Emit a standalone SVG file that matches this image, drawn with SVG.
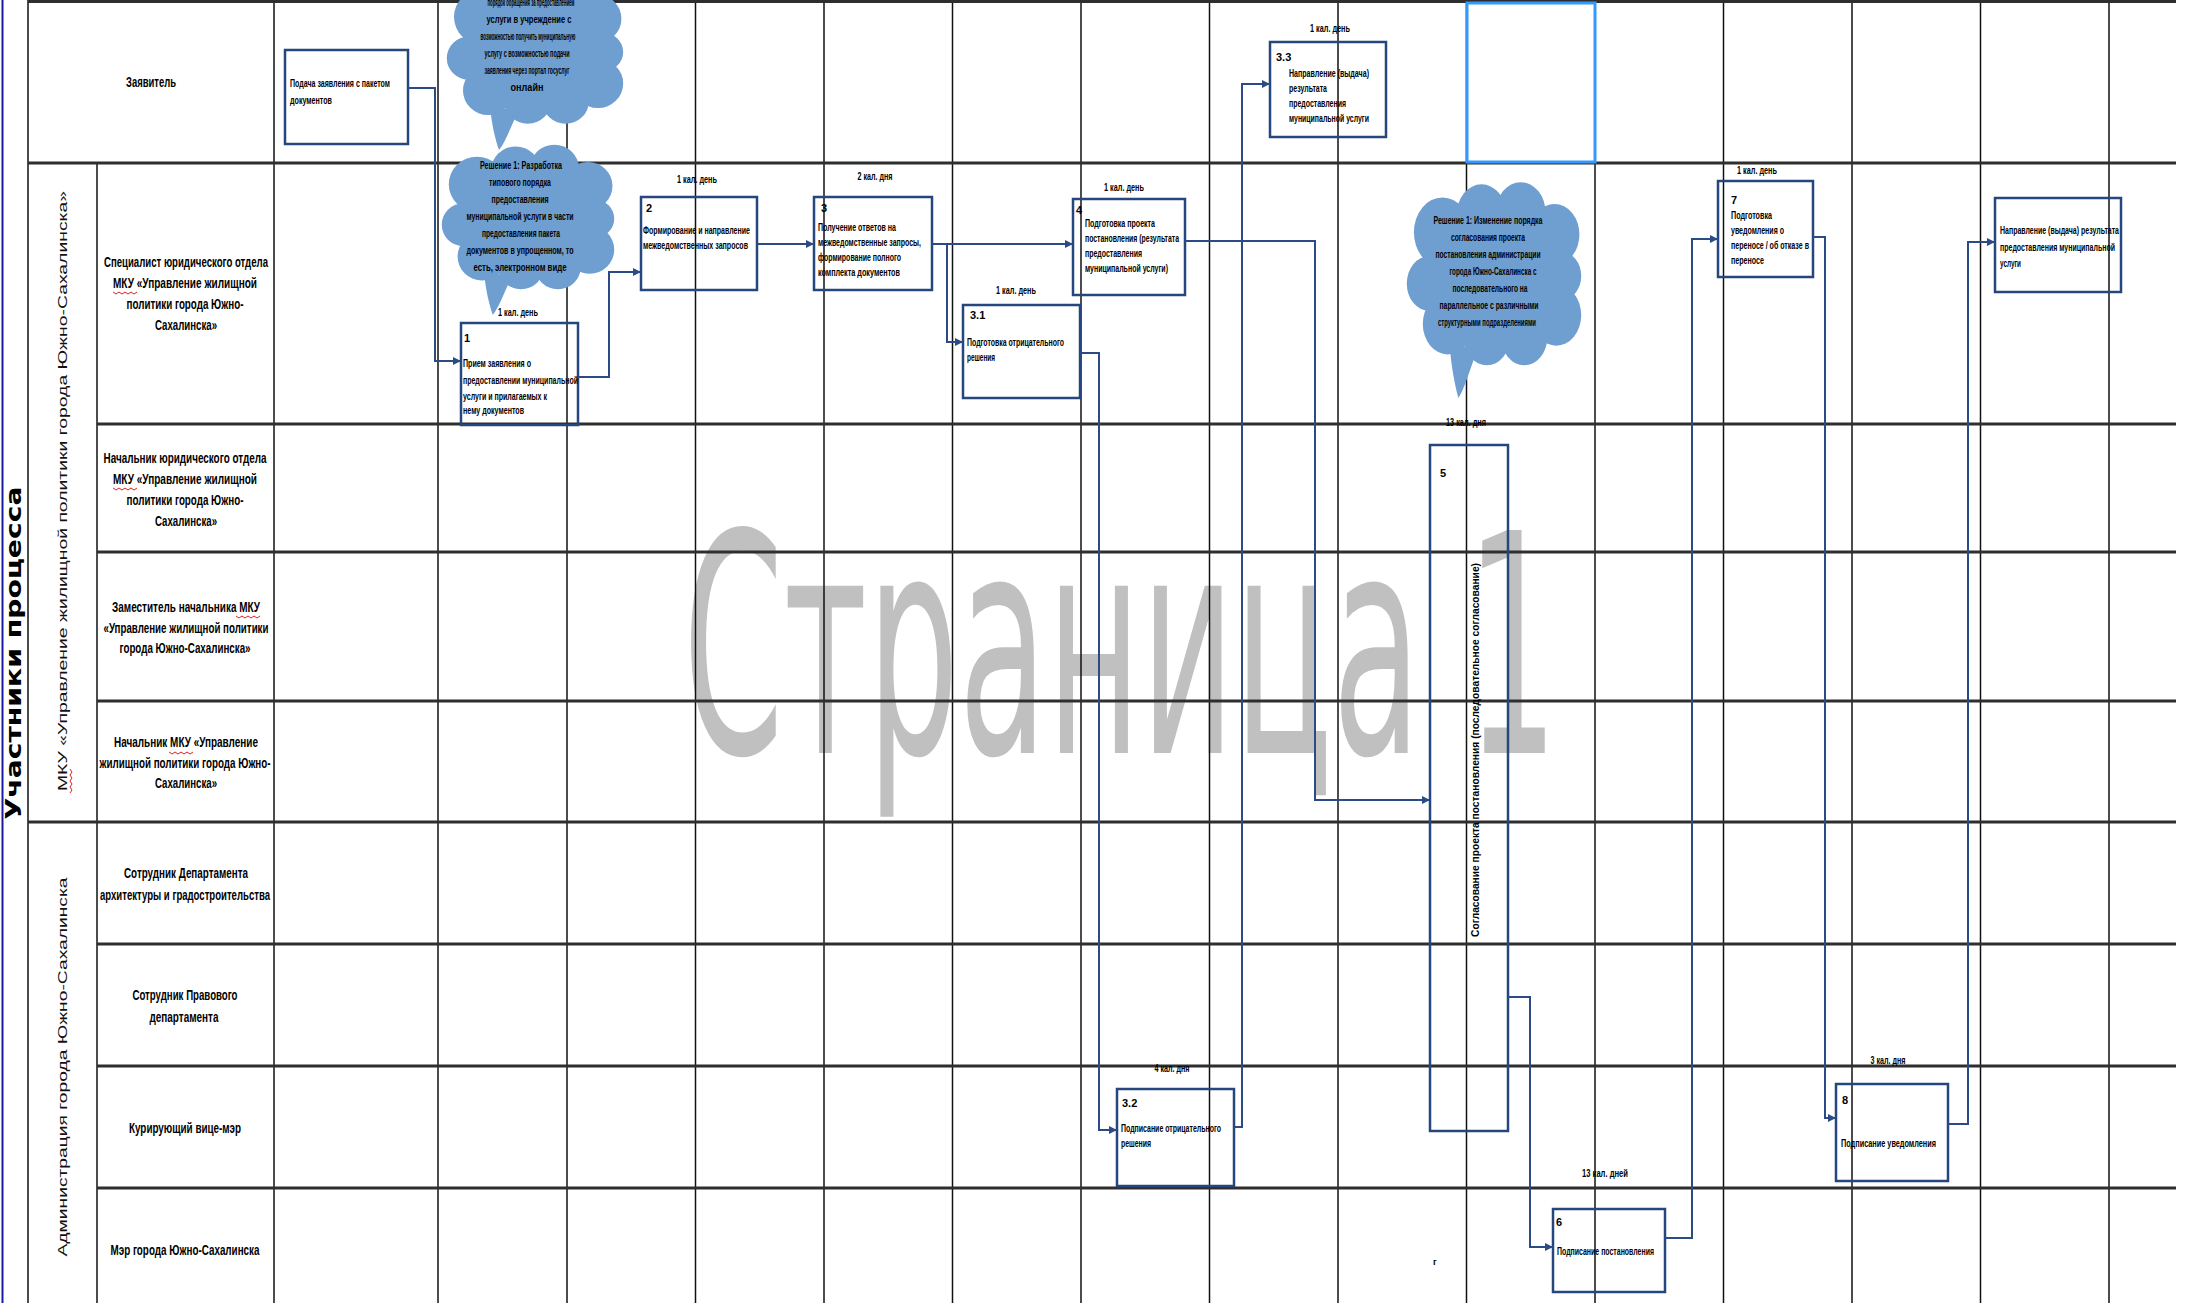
<svg xmlns="http://www.w3.org/2000/svg" xmlns:xlink="http://www.w3.org/1999/xlink" width="2201" height="1303" viewBox="0 0 2201 1303">
<style>
.lane{stroke:#2e2e2e;stroke-width:3;fill:none}
.col{stroke:#111;stroke-width:1.5;fill:none}
.box{fill:none;stroke:#26467e;stroke-width:2.5}
.conn{fill:none;stroke:#2a4b85;stroke-width:2;marker-end:url(#arr)}
.t{font-family:"Liberation Sans",Arial,sans-serif;font-weight:bold;fill:#000}
.role{font-size:15px;text-anchor:middle}
.bx{font-size:11px}
.lbl{font-size:11px;text-anchor:middle}
.cl{font-size:10.5px;text-anchor:middle}
.grp{font-family:"Liberation Sans",Arial,sans-serif;font-size:13px;fill:#111;text-anchor:middle}
.wave{fill:none;stroke:#e02020;stroke-width:1}
</style>
<defs>
<marker id="arr" viewBox="0 0 10 10" refX="10" refY="5" markerWidth="4" markerHeight="4" orient="auto" markerUnits="strokeWidth"><path d="M0,0 L10,5 L0,10 z" fill="#2a4b85"/></marker>
<symbol id="cloud" viewBox="0 0 200 200" preserveAspectRatio="none">
<g fill="#6f9ed0">
<ellipse cx="100" cy="88" rx="80" ry="62"/>
<circle cx="42" cy="48" r="32"/><circle cx="86" cy="32" r="28"/><circle cx="130" cy="30" r="28"/>
<circle cx="168" cy="50" r="28"/><circle cx="176" cy="88" r="22"/><circle cx="170" cy="124" r="28"/>
<circle cx="134" cy="144" r="26"/><circle cx="92" cy="144" r="26"/><circle cx="48" cy="132" r="28"/>
<circle cx="27" cy="95" r="25"/>
<path d="M50,150 C52,172 56,188 60,200 C68,190 74,170 82,155 Z"/>
</g>
</symbol>
<path id="wv" class="wave" d="M0,0 l3,2 l3,-2 l3,2 l3,-2 l3,2 l3,-2 l3,2 l3,-2"/>
</defs>
<rect width="2201" height="1303" fill="#fff"/>

<!-- watermark -->
<text x="683" y="753" font-family="DejaVu Sans,Liberation Sans,sans-serif" font-size="306" fill="#c0c0c0" textLength="875" lengthAdjust="spacingAndGlyphs">Страница 1</text>

<!-- grid -->
<g id="grid">
<line class="col" x1="28" y1="0" x2="28" y2="1303"/>
<line class="col" x1="97" y1="163" x2="97" y2="1303"/>
<line class="col" x1="274" y1="0" x2="274" y2="1303"/>
<line class="col" x1="438" y1="0" x2="438" y2="1303"/>
<line class="col" x1="567" y1="0" x2="567" y2="1303"/>
<line class="col" x1="695.5" y1="0" x2="695.5" y2="1303"/>
<line class="col" x1="824" y1="0" x2="824" y2="1303"/>
<line class="col" x1="952.5" y1="0" x2="952.5" y2="1303"/>
<line class="col" x1="1081" y1="0" x2="1081" y2="1303"/>
<line class="col" x1="1209.5" y1="0" x2="1209.5" y2="1303"/>
<line class="col" x1="1338" y1="0" x2="1338" y2="1303"/>
<line class="col" x1="1466.5" y1="0" x2="1466.5" y2="1303"/>
<line class="col" x1="1595" y1="0" x2="1595" y2="1303"/>
<line class="col" x1="1723.5" y1="0" x2="1723.5" y2="1303"/>
<line class="col" x1="1852" y1="0" x2="1852" y2="1303"/>
<line class="col" x1="1980.5" y1="0" x2="1980.5" y2="1303"/>
<line class="col" x1="2109" y1="0" x2="2109" y2="1303"/>
<line class="lane" x1="28" y1="1.5" x2="2176" y2="1.5"/>
<line class="lane" x1="28" y1="163" x2="2176" y2="163"/>
<line class="lane" x1="97" y1="424" x2="2176" y2="424"/>
<line class="lane" x1="97" y1="552" x2="2176" y2="552"/>
<line class="lane" x1="97" y1="701" x2="2176" y2="701"/>
<line class="lane" x1="28" y1="822" x2="2176" y2="822"/>
<line class="lane" x1="97" y1="944" x2="2176" y2="944"/>
<line class="lane" x1="97" y1="1066" x2="2176" y2="1066"/>
<line class="lane" x1="97" y1="1188" x2="2176" y2="1188"/>
<line x1="2.5" y1="0" x2="2.5" y2="1303" stroke="#1a1aa0" stroke-width="2"/>
</g>

<!-- lane headers -->
<g id="headers" class="t">
<text transform="translate(21,653) rotate(-90)" font-family="DejaVu Sans,Liberation Sans,sans-serif" font-size="21" font-weight="bold" text-anchor="middle" textLength="333" lengthAdjust="spacingAndGlyphs">Участники процесса</text>
<text class="grp" transform="translate(67,491) rotate(-90)" font-weight="normal" textLength="600" lengthAdjust="spacingAndGlyphs">МКУ «Управление жилищной политики города Южно-Сахалинска»</text>
<text class="grp" transform="translate(67,1067) rotate(-90)" font-weight="normal" textLength="379" lengthAdjust="spacingAndGlyphs">Администрация города Южно-Сахалинска</text>
<use href="#wv" transform="translate(70,793) rotate(-90)"/>

<text class="role" x="151" y="87" textLength="50" lengthAdjust="spacingAndGlyphs">Заявитель</text>

<text class="role" x="186" y="267" textLength="164" lengthAdjust="spacingAndGlyphs">Специалист юридического отдела</text>
<text class="role" x="185" y="288" textLength="144" lengthAdjust="spacingAndGlyphs">МКУ «Управление жилищной</text>
<text class="role" x="185" y="309" textLength="117" lengthAdjust="spacingAndGlyphs">политики города Южно-</text>
<text class="role" x="186" y="330" textLength="62" lengthAdjust="spacingAndGlyphs">Сахалинска»</text>
<use href="#wv" x="113" y="292"/>

<text class="role" x="185" y="463" textLength="163" lengthAdjust="spacingAndGlyphs">Начальник юридического отдела</text>
<text class="role" x="185" y="484" textLength="144" lengthAdjust="spacingAndGlyphs">МКУ «Управление жилищной</text>
<text class="role" x="185" y="505" textLength="117" lengthAdjust="spacingAndGlyphs">политики города Южно-</text>
<text class="role" x="186" y="526" textLength="62" lengthAdjust="spacingAndGlyphs">Сахалинска»</text>
<use href="#wv" x="113" y="488"/>

<text class="role" x="186" y="612" textLength="148" lengthAdjust="spacingAndGlyphs">Заместитель начальника МКУ</text>
<text class="role" x="186" y="633" textLength="165" lengthAdjust="spacingAndGlyphs">«Управление жилищной политики</text>
<text class="role" x="185" y="653" textLength="131" lengthAdjust="spacingAndGlyphs">города Южно-Сахалинска»</text>
<use href="#wv" x="236" y="616"/>

<text class="role" x="186" y="747" textLength="144" lengthAdjust="spacingAndGlyphs">Начальник МКУ «Управление</text>
<text class="role" x="185" y="768" textLength="171" lengthAdjust="spacingAndGlyphs">жилищной политики города Южно-</text>
<text class="role" x="186" y="788" textLength="62" lengthAdjust="spacingAndGlyphs">Сахалинска»</text>
<use href="#wv" x="169" y="752"/>

<text class="role" x="186" y="878" textLength="124" lengthAdjust="spacingAndGlyphs">Сотрудник Департамента</text>
<text class="role" x="185" y="900" textLength="170" lengthAdjust="spacingAndGlyphs">архитектуры и градостроительства</text>

<text class="role" x="185" y="1000" textLength="105" lengthAdjust="spacingAndGlyphs">Сотрудник Правового</text>
<text class="role" x="184" y="1022" textLength="69" lengthAdjust="spacingAndGlyphs">департамента</text>

<text class="role" x="185" y="1133" textLength="112" lengthAdjust="spacingAndGlyphs">Курирующий вице-мэр</text>

<text class="role" x="185" y="1255" textLength="149" lengthAdjust="spacingAndGlyphs">Мэр города Южно-Сахалинска</text>
</g>

<!-- clouds -->
<g id="cloud1">
<use href="#cloud" x="445" y="-25" width="180" height="175"/>
<g class="t cl">
<text x="531" y="6" textLength="87" lengthAdjust="spacingAndGlyphs">порядок обращения за предоставлением</text>
<text x="529" y="23" textLength="85" lengthAdjust="spacingAndGlyphs">услуги в учреждение с</text>
<text x="528" y="40" textLength="95" lengthAdjust="spacingAndGlyphs">возможностью получить муниципальную</text>
<text x="527" y="57" textLength="85" lengthAdjust="spacingAndGlyphs">услугу с возможностью подачи</text>
<text x="527" y="74" textLength="85" lengthAdjust="spacingAndGlyphs">заявления через портал госуслуг</text>
<text x="527" y="91" textLength="33" lengthAdjust="spacingAndGlyphs">онлайн</text>
</g>
</g>

<g id="cloud2">
<use href="#cloud" x="440" y="143" width="176" height="172"/>
<g class="t cl">
<text x="521" y="169" textLength="82" lengthAdjust="spacingAndGlyphs">Решение 1: Разработка</text>
<text x="520" y="186" textLength="62" lengthAdjust="spacingAndGlyphs">типового порядка</text>
<text x="520" y="203" textLength="57" lengthAdjust="spacingAndGlyphs">предоставления</text>
<text x="520" y="220" textLength="107" lengthAdjust="spacingAndGlyphs">муниципальной услуги в части</text>
<text x="521" y="237" textLength="78" lengthAdjust="spacingAndGlyphs">предоставления пакета</text>
<text x="520" y="254" textLength="107" lengthAdjust="spacingAndGlyphs">документов в упрощенном, то</text>
<text x="520" y="271" textLength="93" lengthAdjust="spacingAndGlyphs">есть, электронном виде</text>
</g>
</g>

<g id="cloud3">
<use href="#cloud" x="1405" y="180" width="178" height="218"/>
<g class="t cl">
<text x="1488" y="224" textLength="109" lengthAdjust="spacingAndGlyphs">Решение 1: Изменение порядка</text>
<text x="1488" y="241" textLength="74" lengthAdjust="spacingAndGlyphs">согласования проекта</text>
<text x="1488" y="258" textLength="105" lengthAdjust="spacingAndGlyphs">постановления администрации</text>
<text x="1493" y="275" textLength="87" lengthAdjust="spacingAndGlyphs">города Южно-Сахалинска с</text>
<text x="1490" y="292" textLength="75" lengthAdjust="spacingAndGlyphs">последовательного на</text>
<text x="1489" y="309" textLength="99" lengthAdjust="spacingAndGlyphs">параллельное с различными</text>
<text x="1487" y="326" textLength="98" lengthAdjust="spacingAndGlyphs">структурными подразделениями</text>
</g>
</g>

<!-- nodes -->
<g id="node-0">
<rect class="box" x="285" y="50" width="123" height="94"/>
<g class="t bx">
<text x="290" y="87" textLength="100" lengthAdjust="spacingAndGlyphs">Подача заявления с пакетом</text>
<text x="290" y="104" textLength="42" lengthAdjust="spacingAndGlyphs">документов</text>
</g>
</g>

<g id="node-1">
<rect class="box" x="461" y="323" width="117" height="102"/>
<g class="t bx">
<text class="lbl" x="518" y="316" textLength="40" lengthAdjust="spacingAndGlyphs">1 кал. день</text>
<text x="464" y="342">1</text>
<text x="463" y="367" textLength="68" lengthAdjust="spacingAndGlyphs">Прием заявления о</text>
<text x="463" y="384" textLength="115" lengthAdjust="spacingAndGlyphs">предоставлении муниципальной</text>
<text x="463" y="400" textLength="84" lengthAdjust="spacingAndGlyphs">услуги и прилагаемых к</text>
<text x="463" y="414" textLength="61" lengthAdjust="spacingAndGlyphs">нему документов</text>
</g>
</g>

<g id="node-2">
<rect class="box" x="641" y="197" width="116" height="93"/>
<g class="t bx">
<text class="lbl" x="697" y="183" textLength="40" lengthAdjust="spacingAndGlyphs">1 кал. день</text>
<text x="646" y="212">2</text>
<text x="643" y="234" textLength="107" lengthAdjust="spacingAndGlyphs">Формирование и направление</text>
<text x="643" y="249" textLength="105" lengthAdjust="spacingAndGlyphs">межведомственных запросов</text>
</g>
</g>

<g id="node-3">
<rect class="box" x="814" y="197" width="118" height="93"/>
<g class="t bx">
<text class="lbl" x="875" y="180" textLength="35" lengthAdjust="spacingAndGlyphs">2 кал. дня</text>
<text x="821" y="212">3</text>
<text x="818" y="231" textLength="78" lengthAdjust="spacingAndGlyphs">Получение ответов на</text>
<text x="818" y="246" textLength="103" lengthAdjust="spacingAndGlyphs">межведомственные запросы,</text>
<text x="818" y="261" textLength="83" lengthAdjust="spacingAndGlyphs">формирование полного</text>
<text x="818" y="276" textLength="82" lengthAdjust="spacingAndGlyphs">комплекта документов</text>
</g>
</g>

<g id="node-3-1">
<rect class="box" x="963" y="305" width="117" height="93"/>
<g class="t bx">
<text class="lbl" x="1016" y="294" textLength="40" lengthAdjust="spacingAndGlyphs">1 кал. день</text>
<text x="970" y="319">3.1</text>
<text x="967" y="346" textLength="97" lengthAdjust="spacingAndGlyphs">Подготовка отрицательного</text>
<text x="967" y="361" textLength="28" lengthAdjust="spacingAndGlyphs">решения</text>
</g>
</g>

<g id="node-4">
<rect class="box" x="1073" y="199" width="112" height="96"/>
<g class="t bx">
<text class="lbl" x="1124" y="191" textLength="40" lengthAdjust="spacingAndGlyphs">1 кал. день</text>
<text x="1076" y="214">4</text>
<text x="1085" y="227" textLength="70" lengthAdjust="spacingAndGlyphs">Подготовка проекта</text>
<text x="1085" y="242" textLength="94" lengthAdjust="spacingAndGlyphs">постановления (результата</text>
<text x="1085" y="257" textLength="57" lengthAdjust="spacingAndGlyphs">предоставления</text>
<text x="1085" y="272" textLength="83" lengthAdjust="spacingAndGlyphs">муниципальной услуги)</text>
</g>
</g>

<g id="node-3-3">
<rect class="box" x="1270" y="42" width="116" height="95"/>
<g class="t bx">
<text class="lbl" x="1330" y="32" textLength="40" lengthAdjust="spacingAndGlyphs">1 кал. день</text>
<text x="1276" y="61">3.3</text>
<text x="1289" y="77" textLength="80" lengthAdjust="spacingAndGlyphs">Направление (выдача)</text>
<text x="1289" y="92" textLength="38" lengthAdjust="spacingAndGlyphs">результата</text>
<text x="1289" y="107" textLength="57" lengthAdjust="spacingAndGlyphs">предоставления</text>
<text x="1289" y="122" textLength="80" lengthAdjust="spacingAndGlyphs">муниципальной услуги</text>
</g>
</g>

<g id="node-5">
<rect class="box" x="1430" y="445" width="78" height="686"/>
<g class="t bx">
<text class="lbl" x="1466" y="426" textLength="40" lengthAdjust="spacingAndGlyphs">13 кал. дня</text>
<text x="1440" y="477">5</text>
<text transform="translate(1479,750) rotate(-90)" text-anchor="middle" textLength="374" lengthAdjust="spacingAndGlyphs">Согласование проекта постановления (последовательное согласование)</text>
</g>
</g>

<g id="node-3-2">
<rect class="box" x="1117" y="1089" width="117" height="97"/>
<g class="t bx">
<text class="lbl" x="1172" y="1072" textLength="35" lengthAdjust="spacingAndGlyphs">4 кал. дня</text>
<text x="1122" y="1107">3.2</text>
<text x="1121" y="1132" textLength="100" lengthAdjust="spacingAndGlyphs">Подписание отрицательного</text>
<text x="1121" y="1147" textLength="30" lengthAdjust="spacingAndGlyphs">решения</text>
</g>
</g>

<g id="node-6">
<rect class="box" x="1553" y="1209" width="112" height="83"/>
<g class="t bx">
<text class="lbl" x="1605" y="1177" textLength="46" lengthAdjust="spacingAndGlyphs">13 кал. дней</text>
<text x="1556" y="1226">6</text>
<text x="1557" y="1255" textLength="97" lengthAdjust="spacingAndGlyphs">Подписание постановления</text>
</g>
</g>

<g id="node-7">
<rect class="box" x="1718" y="181" width="95" height="96"/>
<g class="t bx">
<text class="lbl" x="1757" y="174" textLength="40" lengthAdjust="spacingAndGlyphs">1 кал. день</text>
<text x="1731" y="204">7</text>
<text x="1731" y="219" textLength="41" lengthAdjust="spacingAndGlyphs">Подготовка</text>
<text x="1731" y="234" textLength="53" lengthAdjust="spacingAndGlyphs">уведомления о</text>
<text x="1731" y="249" textLength="78" lengthAdjust="spacingAndGlyphs">переносе / об отказе в</text>
<text x="1731" y="264" textLength="33" lengthAdjust="spacingAndGlyphs">переносе</text>
</g>
</g>

<g id="node-8">
<rect class="box" x="1836" y="1084" width="112" height="97"/>
<g class="t bx">
<text class="lbl" x="1888" y="1064" textLength="35" lengthAdjust="spacingAndGlyphs">3 кал. дня</text>
<text x="1842" y="1104">8</text>
<text x="1841" y="1147" textLength="95" lengthAdjust="spacingAndGlyphs">Подписание уведомления</text>
</g>
</g>

<g id="node-9">
<rect class="box" x="1995" y="198" width="126" height="94"/>
<g class="t bx">
<text x="2000" y="234" textLength="119" lengthAdjust="spacingAndGlyphs">Направление (выдача) результата</text>
<text x="2000" y="251" textLength="115" lengthAdjust="spacingAndGlyphs">предоставления муниципальной</text>
<text x="2000" y="267" textLength="21" lengthAdjust="spacingAndGlyphs">услуги</text>
</g>
</g>

<text class="t" x="1433" y="1265" font-size="9">г</text>

<!-- connectors -->
<g id="connectors">
<path class="conn" d="M408,88 H435 V361 H461"/>
<path class="conn" d="M578,377 H609 V272 H641"/>
<path class="conn" d="M757,244 H814"/>
<path class="conn" d="M932,244 H1073"/>
<path class="conn" d="M932,244 H947 V342 H963"/>
<path class="conn" d="M1080,353 H1099 V1130 H1117"/>
<path class="conn" d="M1234,1127 H1242 V84 H1270"/>
<path class="conn" d="M1185,241 H1315 V800 H1430"/>
<path class="conn" d="M1508,997 H1530 V1247 H1553"/>
<path class="conn" d="M1665,1238 H1692 V239 H1718"/>
<path class="conn" d="M1813,237 H1825 V1118 H1836"/>
<path class="conn" d="M1948,1124 H1968 V242 H1995"/>
</g>

<!-- selected cell highlight -->
<rect x="1467" y="3" width="128" height="159" fill="none" stroke="#3399ff" stroke-width="3"/>
</svg>
